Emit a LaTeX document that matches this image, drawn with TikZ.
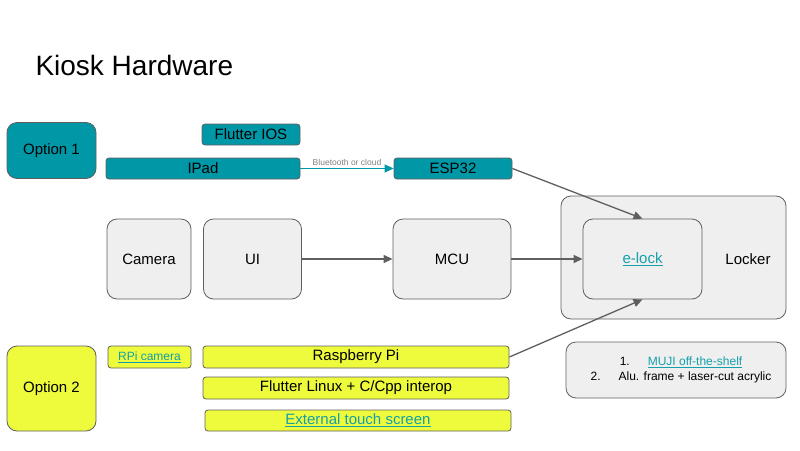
\documentclass[tikz,border=0pt]{standalone}
\usepackage{fontspec}
\setmainfont{Liberation Sans}
\usetikzlibrary{arrows.meta}
\definecolor{tealfill}{RGB}{0,151,167}
\definecolor{yellowfill}{RGB}{238,250,60}
\definecolor{grayfill}{RGB}{239,239,239}
\definecolor{edgegray}{RGB}{95,95,95}
\definecolor{linkteal}{RGB}{20,160,170}
\newcommand{\hwlink}[1]{\textcolor{linkteal}{\underline{#1}}}

\tikzset{
  hwbox/.style={draw=edgegray, line width=0.8pt, rounded corners=3pt, inner sep=0pt,
    font=\fontsize{15}{18}\selectfont},
  bigbox/.style={hwbox, rounded corners=10pt},
  teal box/.style={hwbox, fill=tealfill},
  yellow box/.style={hwbox, fill=yellowfill},
  gray box/.style={bigbox, fill=grayfill},
  hwarrow/.style={draw=edgegray, line width=1.3pt, -{Triangle[length=9pt,width=8pt]}},
}

\begin{document}
\begin{tikzpicture}[x=1pt, y=-1pt]
	\useasboundingbox (0,0) rectangle (800,450);

	% Title
	\node at (32,65) [anchor=west, font=\fontsize{28}{33}\selectfont] (title) {Kiosk Hardware};

	% Option 1: iPad based
	\node[teal box, bigbox, minimum width=89pt, minimum height=56pt] (opt1) at (51.5,150.5) {Option 1};
	\node[teal box, minimum width=98pt, minimum height=21pt] (flios) at (251,134.5) {Flutter IOS};
	\node[teal box, minimum width=194pt, minimum height=21pt] (ipad) at (203,168.5) {IPad};
	\node[teal box, minimum width=118pt, minimum height=21pt] (esp) at (453,168.5) {ESP32};

	% Common parts
	\node[gray box, minimum width=84pt, minimum height=80pt] (camera) at (149,259) {Camera};
	\node[gray box, minimum width=98pt, minimum height=80pt] (ui) at (252.5,259) {UI};
	\node[gray box, minimum width=118pt, minimum height=80pt] (mcu) at (452,259) {MCU};

	% Locker and e-lock
	\node[gray box, minimum width=225pt, minimum height=123pt] (locker) at (673.5,257.5) {};
	\node at (748,259) (lockertext) [font=\fontsize{15}{18}\selectfont] {Locker};
	\node[gray box, minimum width=119pt, minimum height=80pt] (elock) at (642.5,259) {\hwlink{e-lock}};

	% Locker options
	\node[gray box, minimum width=220pt, minimum height=56pt] (note) at (676,370) {};
	\node at (681,370) (notetext) [align=center, font=\fontsize{12}{14.5}\selectfont]
		{1.\hspace{18pt}\hwlink{MUJI off-the-shelf}\\ 2.\hspace{18pt}Alu. frame + laser-cut acrylic};

	% Option 2: Raspberry Pi based
	\node[yellow box, bigbox, minimum width=89pt, minimum height=85pt] (opt2) at (51.5,388.5) {Option 2};
	\node[yellow box, minimum width=83pt, minimum height=22pt, font=\fontsize{12}{14}\selectfont] (rpicam) at (149.5,357) {\hwlink{RPi camera}};
	\node[yellow box, minimum width=306pt, minimum height=22pt] (rpi) at (356,357) {Raspberry Pi};
	\node[yellow box, minimum width=306pt, minimum height=22pt] (fllinux) at (356,388) {Flutter Linux + C/Cpp interop};
	\node[yellow box, minimum width=306pt, minimum height=21pt] (touch) at (358,420.5) {\hwlink{External touch screen}};

	% Connectors
	\draw[hwarrow, draw=tealfill, -{Triangle[length=9pt,width=8pt,fill=tealfill]}] (ipad) -- node[above, text=gray, font=\fontsize{8.5}{10}\selectfont, inner sep=2pt] {Bluetooth or cloud} (esp);
	\draw[hwarrow] (ui) -- (mcu);
	\draw[hwarrow] (mcu) -- (elock);
	\draw[hwarrow] (esp.east) -- (elock.north);
	\draw[hwarrow] (rpi.east) -- (elock.south);
    \end{tikzpicture}
\end{document}
